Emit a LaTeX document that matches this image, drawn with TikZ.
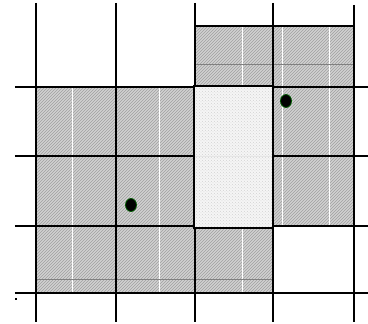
\documentclass[tikz,border=0pt]{standalone}
\usetikzlibrary{patterns}
\begin{document}
\begin{tikzpicture}[x=1pt,y=-1pt,
  grid/.style={line width=1.3pt,black},
  thick border/.style={line width=1.9pt,black},
  hatch/.style={fill=gray!35,postaction={pattern=north east lines,pattern color=gray!75}},
  dotty/.style={fill=gray!8,postaction={pattern=crosshatch dots,pattern color=gray!35}},
  whiteline/.style={white,line width=1pt},
  grayline/.style={gray,line width=0.8pt},
  marker/.style={fill=black,draw=green!35!black,line width=0.8pt}]
\useasboundingbox (0,0) rectangle (368,324);
% shaded areas
\path[hatch] (195,26) rectangle (354,87);
\path[hatch] (36,87) rectangle (195,293);
\path[hatch] (273,87) rectangle (354,226);
\path[hatch] (195,228) rectangle (273,293);
% white lines inside shaded cells
\draw[whiteline] (73,87) -- (73,293);
\draw[whiteline] (160,87) -- (160,293);
\draw[whiteline] (243,228) -- (243,293);
\draw[whiteline] (243,26) -- (243,86);
\draw[whiteline] (283,26) -- (283,226);
\draw[whiteline] (330,26) -- (330,226);
% faint gray lines
\draw[grayline] (195,64) -- (354,64);
\draw[grayline] (36,279) -- (273,279);
% grid
\foreach \x in {36,116,195,273} \draw[grid] (\x,3) -- (\x,322);
\draw[grid] (354,5) -- (354,322);
\foreach \y in {87,156,226,293} \draw[grid] (15,\y) -- (368,\y);
% dotted middle region covers the grid
\path[dotty] (194,86) rectangle (273,228);
\draw[gray!20,line width=0.6pt] (195,156) -- (273,156);
% thick borders
\draw[thick border] (195,87) -- (195,26) -- (354,26) -- (354,87);
\draw[thick border] (195,87) -- (36,87) -- (36,293) -- (273,293) -- (273,228);
\draw[thick border] (194,86) rectangle (273,228);
\draw[thick border] (273,87) -- (354,87) -- (354,226) -- (273,226);
% markers
\path[marker] (286,101) ellipse (5.5pt and 6.5pt);
\path[marker] (131,205) ellipse (5.5pt and 6.5pt);
\fill (15,298) rectangle (17,300);
\end{tikzpicture}
\end{document}
